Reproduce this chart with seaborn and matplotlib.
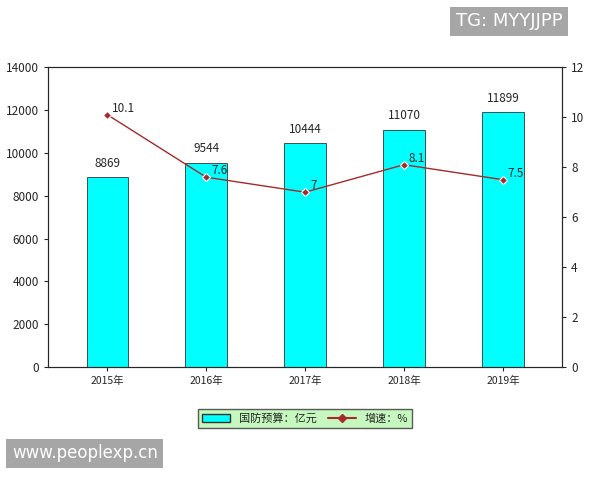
import matplotlib
matplotlib.use("Agg")
import matplotlib.pyplot as plt
import seaborn as sns
import pandas as pd
from matplotlib.patches import Patch
from matplotlib.lines import Line2D

years = ["2015年", "2016年", "2017年", "2018年", "2019年"]
budget = [8869, 9544, 10444, 11070, 11899]
growth = [10.1, 7.6, 7, 8.1, 7.5]
growth_labels = ["10.1", "7.6", "7", "8.1", "7.5"]

sns.set_style("white")
plt.rcParams['font.family'] = ['Noto Sans CJK SC', 'DejaVu Sans']

df = pd.DataFrame({"year": years, "budget": budget, "growth": growth})

fig = plt.figure(figsize=(6, 4.8), dpi=100)
ax = fig.add_axes([0.08, 0.235, 0.857, 0.625])
sns.barplot(data=df, x="year", y="budget", color="#00ffff", edgecolor="#333333",
            linewidth=0.6, width=0.42, saturation=1, ax=ax)
ax.set_ylim(0, 14000)
ax.set_yticks(range(0, 14001, 2000))
ax.set_xlabel("")
ax.set_ylabel("")
for i, v in enumerate(budget):
    ax.text(i, v + 350, str(v), ha="center", va="bottom", fontsize=8.5)
ax.tick_params(axis="y", labelsize=8.5, length=3, direction="out", left=True)
ax.tick_params(axis="x", labelsize=7.5, length=3, direction="out", bottom=True)
for s in ax.spines.values():
    s.set_color("#444444")
    s.set_linewidth(0.8)

ax2 = ax.twinx()
sns.lineplot(x=list(range(5)), y=growth, color="#a52a2a", marker="D", markersize=4,
             linewidth=1, ax=ax2)
ax2.set_ylim(0, 12)
ax2.set_yticks(range(0, 13, 2))
ax2.tick_params(labelsize=8.5, length=3, direction="out", right=True)
for i, v in enumerate(growth):
    ax2.text(i + 0.05, v, growth_labels[i], ha="left", va="bottom", fontsize=8.5)
ax.set_xlim(-0.6, 4.6)

handles = [Patch(facecolor="#00ffff", edgecolor="#333333"),
           Line2D([0], [0], color="#a52a2a", marker="D", markersize=4)]
leg = ax.legend(handles, ["国防预算：亿元", "增速：%"], loc="upper center",
                bbox_to_anchor=(0.5, -0.12), ncol=2, fontsize=8, frameon=True,
                fancybox=False, handlelength=2.5, columnspacing=1)
leg.get_frame().set_facecolor("#b8f5b0")
leg.get_frame().set_edgecolor("#333333")

fig.text(0.76, 0.945, "TG: MYYJJPP", color="white", fontsize=13, family="DejaVu Sans",
         bbox=dict(facecolor="#a6a6a6", edgecolor="none", pad=4))
fig.text(0.02, 0.045, "www.peoplexp.cn", color="white", fontsize=12, family="DejaVu Sans",
         bbox=dict(facecolor="#a6a6a6", edgecolor="none", pad=4))

fig.savefig("out.png", dpi=100)
